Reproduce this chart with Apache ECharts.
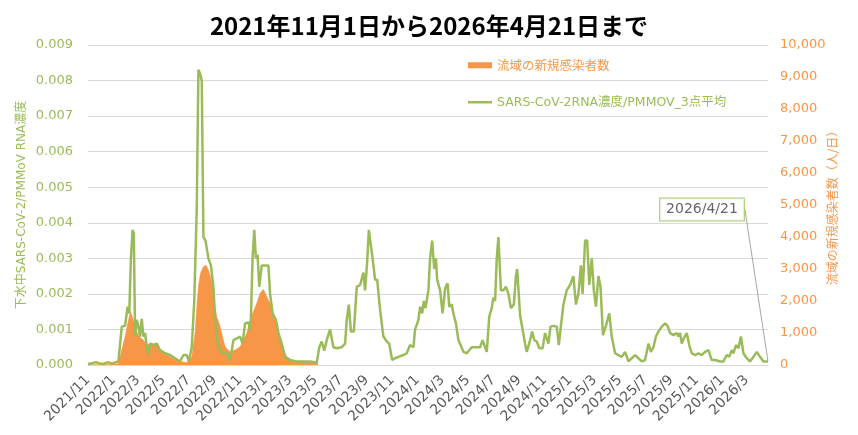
<!DOCTYPE html>
<html>
<head>
<meta charset="utf-8">
<script src="https://cdn.jsdelivr.net/npm/echarts@6/dist/echarts.min.js"></script>
<style>
  html, body { margin: 0; padding: 0; background: #fff; }
  #chart { width: 858px; height: 435px; }
</style>
</head>
<body>
<div id="chart"></div>
<script>
// === Données ===
const titleText = "2021年11月1日から2026年4月21日まで";
const startDate = "2021-11-01";
const endDate = "2026-04-21";

const tickMonths = [
  "2021-11-01",
  "2022-01-01", "2022-03-01", "2022-05-01", "2022-07-01", "2022-09-01", "2022-11-01",
  "2023-01-01", "2023-03-01", "2023-05-01", "2023-07-01", "2023-09-01", "2023-11-01",
  "2024-01-01", "2024-03-01", "2024-05-01", "2024-07-01", "2024-09-01", "2024-11-01",
  "2025-01-01", "2025-03-01", "2025-05-01", "2025-07-01", "2025-09-01", "2025-11-01",
  "2026-01-01", "2026-03-01"
];

// 流域の新規感染者数 (人/日)
const caseDates = [
  "2021-11-01", "2021-12-01", "2022-01-01", "2022-01-13", "2022-01-21", "2022-01-29",
  "2022-02-06", "2022-02-11", "2022-02-18", "2022-02-24", "2022-03-04", "2022-03-14",
  "2022-03-22", "2022-04-03", "2022-04-15", "2022-04-23", "2022-05-09", "2022-05-21",
  "2022-06-02", "2022-06-14", "2022-06-26", "2022-07-08", "2022-07-16", "2022-07-20",
  "2022-07-24", "2022-07-29", "2022-08-05", "2022-08-11", "2022-08-17", "2022-08-22",
  "2022-08-29", "2022-09-02", "2022-09-06", "2022-09-12", "2022-09-18", "2022-09-26",
  "2022-10-08", "2022-10-20", "2022-11-01", "2022-11-09", "2022-11-17", "2022-11-25",
  "2022-12-03", "2022-12-11", "2022-12-19", "2022-12-27", "2023-01-04", "2023-01-12",
  "2023-01-20", "2023-01-28", "2023-02-05", "2023-02-13", "2023-02-21", "2023-03-05",
  "2023-03-17", "2023-04-10", "2023-05-07"
];
const caseValues = [
  10, 15, 20, 50, 470, 885,
  1400, 1670, 1400, 1090, 885, 780,
  625, 680, 625, 480, 330, 230,
  170, 100, 80, 260, 1000, 1820,
  2450, 2870, 3070, 3125, 2970, 2760,
  2340, 1820, 1510, 1300, 990, 570,
  415, 470, 570, 780, 990, 1400,
  1670, 1930, 2240, 2365, 2135, 1930,
  1560, 1200, 780, 470, 260, 155,
  100, 100, 90
];

// SARS-CoV-2RNA濃度/PMMOV_3点平均
const sewerDates = [
  "2021-11-01", "2021-11-11", "2021-11-20", "2021-11-30", "2021-12-09", "2021-12-19", "2021-12-29",
  "2022-01-07", "2022-01-13", "2022-01-21", "2022-01-29", "2022-02-04", "2022-02-08", "2022-02-12",
  "2022-02-16", "2022-02-19", "2022-02-22", "2022-02-26", "2022-03-02", "2022-03-06", "2022-03-10",
  "2022-03-14", "2022-03-18", "2022-03-22", "2022-03-26", "2022-03-30", "2022-04-07", "2022-04-15",
  "2022-04-23", "2022-05-05", "2022-05-17", "2022-05-29", "2022-06-10", "2022-06-18", "2022-06-26",
  "2022-07-01", "2022-07-08", "2022-07-14", "2022-07-20", "2022-07-24", "2022-07-28", "2022-08-01",
  "2022-08-05", "2022-08-10", "2022-08-17", "2022-08-23", "2022-08-29", "2022-09-02", "2022-09-10",
  "2022-09-18", "2022-09-30", "2022-10-08", "2022-10-16", "2022-10-24", "2022-11-01", "2022-11-07",
  "2022-11-13", "2022-11-21", "2022-11-26", "2022-12-01", "2022-12-05", "2022-12-09", "2022-12-13",
  "2022-12-17", "2022-12-23", "2022-12-31", "2023-01-08", "2023-01-12", "2023-01-18", "2023-01-26",
  "2023-02-01", "2023-02-09", "2023-02-17", "2023-03-01", "2023-03-17", "2023-04-02", "2023-04-18",
  "2023-05-04", "2023-05-10", "2023-05-16", "2023-05-22", "2023-05-28", "2023-06-05", "2023-06-13",
  "2023-06-21", "2023-07-03", "2023-07-11", "2023-07-15", "2023-07-20", "2023-07-25", "2023-08-01",
  "2023-08-08", "2023-08-16", "2023-08-24", "2023-08-28", "2023-09-02", "2023-09-06", "2023-09-10",
  "2023-09-15", "2023-09-21", "2023-09-26", "2023-10-03", "2023-10-11", "2023-10-19", "2023-10-25",
  "2023-11-01", "2023-11-08", "2023-11-16", "2023-11-28", "2023-12-06", "2023-12-14", "2023-12-22",
  "2023-12-26", "2024-01-03", "2024-01-07", "2024-01-12", "2024-01-16", "2024-01-20", "2024-01-27",
  "2024-01-31", "2024-02-05", "2024-02-10", "2024-02-14", "2024-02-17", "2024-02-24", "2024-03-01",
  "2024-03-07", "2024-03-13", "2024-03-17", "2024-03-23", "2024-03-27", "2024-04-02", "2024-04-08",
  "2024-04-12", "2024-04-20", "2024-04-28", "2024-05-10", "2024-05-22", "2024-05-30", "2024-06-05",
  "2024-06-15", "2024-06-21", "2024-06-27", "2024-07-01", "2024-07-05", "2024-07-09", "2024-07-13",
  "2024-07-17", "2024-07-19", "2024-07-25", "2024-07-31", "2024-08-06", "2024-08-12", "2024-08-19",
  "2024-08-24", "2024-08-27", "2024-09-03", "2024-09-09", "2024-09-15", "2024-09-19", "2024-09-27",
  "2024-10-02", "2024-10-07", "2024-10-13", "2024-10-19", "2024-10-27", "2024-11-02", "2024-11-10",
  "2024-11-15", "2024-11-22", "2024-11-30", "2024-12-05", "2024-12-10", "2024-12-16", "2024-12-24",
  "2025-01-01", "2025-01-09", "2025-01-15", "2025-01-21", "2025-01-27", "2025-01-31", "2025-02-06",
  "2025-02-11", "2025-02-16", "2025-02-22", "2025-02-27", "2025-03-04", "2025-03-10", "2025-03-15",
  "2025-03-21", "2025-03-28", "2025-04-05", "2025-04-11", "2025-04-19", "2025-04-27", "2025-05-05",
  "2025-05-13", "2025-05-21", "2025-05-29", "2025-06-06", "2025-06-14", "2025-06-22", "2025-06-30",
  "2025-07-08", "2025-07-14", "2025-07-20", "2025-07-26", "2025-08-01", "2025-08-09", "2025-08-17",
  "2025-08-23", "2025-08-29", "2025-09-06", "2025-09-14", "2025-09-18", "2025-09-22", "2025-09-26",
  "2025-10-01", "2025-10-08", "2025-10-14", "2025-10-20", "2025-10-28", "2025-11-05", "2025-11-13",
  "2025-11-21", "2025-11-29", "2025-12-07", "2025-12-15", "2025-12-27", "2026-01-04", "2026-01-12",
  "2026-01-18", "2026-01-24", "2026-01-28", "2026-02-03", "2026-02-09", "2026-02-15", "2026-02-21",
  "2026-03-01", "2026-03-09", "2026-03-17", "2026-03-25", "2026-04-02", "2026-04-10", "2026-04-18",
  "2026-04-21"
];
const sewerValues = [
  0.00003, 0.00005, 0.00008, 0.00004, 0.00003, 0.00008, 0.00004,
  0.00008, 0.0001, 0.00108, 0.0011, 0.00164, 0.00145, 0.003,
  0.0038, 0.0037, 0.0008, 0.00127, 0.00108, 0.0008, 0.0013,
  0.0008, 0.0009, 0.0005, 0.00028, 0.0006, 0.00056, 0.0006,
  0.00042, 0.00033, 0.00028, 0.00019, 0.0001, 0.00028, 0.00028,
  0.0001, 0.0005, 0.0018, 0.0044, 0.0083, 0.0082, 0.008,
  0.0036, 0.0035, 0.003, 0.0028, 0.0022, 0.00127, 0.0005,
  0.00035, 0.00033, 0.00012, 0.0007, 0.00075, 0.0008, 0.0006,
  0.00117, 0.0012, 0.00094, 0.003, 0.0038, 0.003, 0.0031,
  0.0022, 0.0028, 0.0028, 0.0028, 0.002, 0.00145, 0.00127,
  0.0009, 0.0006, 0.00023, 0.00014, 0.0001, 0.0001, 0.0001,
  0.00007, 0.0005, 0.00066, 0.0004, 0.0007, 0.001, 0.0005,
  0.00047, 0.0005, 0.0006, 0.00127, 0.0017, 0.00094, 0.00094,
  0.0022, 0.00225, 0.0026, 0.0021, 0.0029, 0.0038, 0.0038,
  0.003, 0.0024, 0.0024, 0.00155, 0.0008, 0.00066, 0.0006,
  0.00014, 0.00019, 0.00023, 0.00028, 0.00033, 0.00056, 0.0005,
  0.001, 0.00127, 0.00164, 0.00145, 0.0018, 0.0016, 0.0021,
  0.003, 0.0035, 0.0027, 0.003, 0.0024, 0.0021, 0.00145,
  0.00215, 0.0023, 0.00164, 0.0017, 0.00145, 0.00117, 0.0007,
  0.00066, 0.00037, 0.00033, 0.0005, 0.0005, 0.0005, 0.0007,
  0.00037, 0.00136, 0.0016, 0.0019, 0.0018, 0.003, 0.0036,
  0.0036, 0.0021, 0.0021, 0.0022, 0.002, 0.0016, 0.0017,
  0.0025, 0.0027, 0.0014, 0.001, 0.0006, 0.00037, 0.0007,
  0.00094, 0.0007, 0.00066, 0.00047, 0.00047, 0.0009, 0.0006,
  0.00108, 0.0011, 0.00108, 0.00056, 0.0011, 0.0017, 0.0021,
  0.00225, 0.0025, 0.0017, 0.002, 0.0028, 0.002, 0.0035,
  0.0035, 0.00225, 0.003, 0.0021, 0.00164, 0.0025, 0.0022,
  0.00084, 0.0011, 0.00145, 0.0008, 0.00033, 0.00028, 0.00023,
  0.00037, 0.0001, 0.00019, 0.00028, 0.00019, 0.0001, 0.00014,
  0.0006, 0.00037, 0.0005, 0.0008, 0.00094, 0.00108, 0.00117,
  0.0011, 0.0009, 0.00084, 0.0009, 0.0008, 0.0009, 0.0006,
  0.00075, 0.0009, 0.00056, 0.00033, 0.00028, 0.00033, 0.00028,
  0.00037, 0.00042, 0.00014, 0.00014, 0.0001, 0.0001, 0.00028,
  0.00023, 0.00042, 0.00033, 0.00056, 0.00047, 0.0008, 0.00033,
  0.00019, 0.0001, 0.00023, 0.00037, 0.00023, 0.0001, 0.0001,
  0.0001
];

// === Couleurs / polices ===
const GREEN = "#9BBB59";
const ORANGE = "#F79646";
const FONT = '"Noto Sans CJK JP", "Noto Sans", sans-serif';
const FONT_WIDE = '"DejaVu Sans", "Noto Sans CJK JP", sans-serif';

const chart = echarts.init(document.getElementById("chart"));

// dates -> timestamps (axe "value" pour pouvoir fixer les graduations)
const ts = s => echarts.time.parse(s).getTime();
const fmtMonth = v => {
    const d = new Date(v);
    return d.getFullYear() + "/" + (d.getMonth() + 1);
};
const tickValues = tickMonths.map(ts);

const lastIdx = sewerDates.length - 1;
const lastLabel = sewerDates[lastIdx].split("-").map(Number).join("/");

const option = {
    backgroundColor: "#fff",
    animation: false,
    textStyle: { fontFamily: FONT },
    title: {
        text: titleText,
        left: "center",
        top: 9,
        textStyle: { fontSize: 24, fontWeight: "bold", color: "#000", fontFamily: FONT }
    },
    legend: [
        {
            data: [{ name: "流域の新規感染者数", icon: "rect", textStyle: { color: ORANGE } }],
            left: 463, top: 54,
            itemWidth: 24, itemHeight: 6, itemGap: 4,
            selectedMode: false,
            textStyle: { fontSize: 12.5, fontFamily: FONT }
        },
        {
            data: [{ name: "SARS-CoV-2RNA濃度/PMMOV_3点平均", icon: "rect", textStyle: { color: GREEN } }],
            left: 463, top: 91,
            itemWidth: 24, itemHeight: 2.5,
            selectedMode: false,
            textStyle: { fontSize: 12.5, fontFamily: FONT_WIDE }
        }
    ],
    grid: { left: 88, right: 90, top: 45, bottom: 70 },
    xAxis: {
        type: "value",
        min: ts(startDate),
        max: ts(endDate),
        axisLine: { onZero: false, lineStyle: { color: "#d9d9d9" } },
        axisTick: { show: false, customValues: tickValues },
        splitLine: { show: false },
        axisLabel: {
            customValues: tickValues,
            formatter: fmtMonth,
            rotate: 45,
            color: "#595959",
            fontSize: 14,
            fontFamily: FONT_WIDE,
            margin: 13,
            hideOverlap: false,
            showMinLabel: true,
            showMaxLabel: true
        }
    },
    yAxis: [
        {
            type: "value",
            min: 0, max: 0.009, interval: 0.001,
            name: "下水中SARS-CoV-2/PMMoV RNA濃度",
            nameLocation: "middle",
            nameRotate: 90,
            nameGap: 60,
            nameMoveOverlap: false,
            nameTextStyle: { color: GREEN, fontSize: 12, fontFamily: FONT_WIDE },
            axisLine: { show: false },
            axisTick: { show: false },
            axisLabel: { color: GREEN, fontSize: 13, fontFamily: FONT_WIDE, formatter: v => v.toFixed(3), margin: 15 },
            splitLine: { lineStyle: { color: "#d9d9d9" } }
        },
        {
            type: "value",
            min: 0, max: 10000, interval: 1000,
            position: "right",
            name: "流域の新規感染者数（人/日）",
            nameLocation: "middle",
            nameRotate: 90,
            nameGap: 58,
            nameMoveOverlap: false,
            nameTextStyle: { color: ORANGE, fontSize: 12 },
            axisLine: { show: false },
            axisTick: { show: false },
            axisLabel: { color: ORANGE, fontSize: 13, fontFamily: FONT_WIDE, formatter: v => v.toLocaleString("en-US"), margin: 12 },
            splitLine: { show: false }
        }
    ],
    series: [
        {
            name: "流域の新規感染者数",
            type: "line",
            yAxisIndex: 1,
            symbol: "none",
            itemStyle: { color: ORANGE },
            lineStyle: { width: 0.5, color: ORANGE },
            areaStyle: { color: ORANGE, opacity: 1 },
            z: 1,
            data: caseDates.map((d, i) => [ts(d), caseValues[i]])
        },
        {
            name: "SARS-CoV-2RNA濃度/PMMOV_3点平均",
            type: "line",
            yAxisIndex: 0,
            symbol: "none",
            itemStyle: { color: GREEN },
            lineStyle: { width: 2.5, color: GREEN },
            z: 2,
            data: sewerDates.map((d, i) => [ts(d), sewerValues[i]])
        },
        {
            // 最終日の吹き出し
            name: "callout",
            type: "scatter",
            yAxisIndex: 0,
            symbolSize: 1,
            itemStyle: { color: "rgba(0,0,0,0)" },
            z: 3,
            silent: true,
            label: {
                show: true,
                position: "inside",
                formatter: lastLabel,
                color: "#404040",
                fontSize: 14,
                fontFamily: FONT_WIDE,
                backgroundColor: "#fff",
                borderColor: GREEN,
                borderWidth: 1,
                padding: [4, 6]
            },
            labelLayout: { dx: -66, dy: -152 },
            labelLine: { show: true, lineStyle: { color: "#a6a6a6", width: 1 } },
            data: [[ts(sewerDates[lastIdx]), sewerValues[lastIdx]]]
        }
    ]
};

chart.setOption(option);
window.addEventListener("resize", () => chart.resize());
</script>
</body>
</html>
